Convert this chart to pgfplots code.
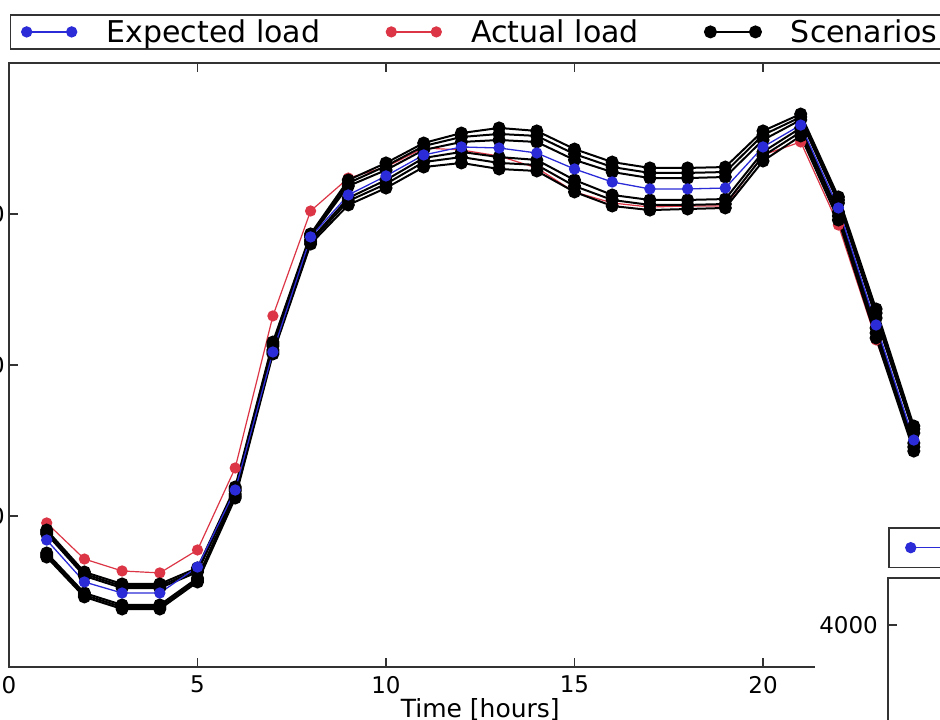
\documentclass[border=0pt]{standalone}
\usepackage{fontspec}
\setmainfont{DejaVu Sans}
\usepackage{pgfplots}
\usepackage{pgfplotstable}
\pgfplotsset{compat=1.18}
\definecolor{expblue}{HTML}{2B2BD8}
\definecolor{actred}{HTML}{DC3545}
\definecolor{axgray}{HTML}{333333}

% load per hour: expected, actual, six scenarios
\pgfplotstableread{
h  exp  act  s1   s2   s3   s4   s5   s6
1  2841 2954 2907 2894 2881 2755 2742 2728
2  2563 2715 2629 2616 2603 2490 2477 2464
3  2490 2636 2550 2536 2523 2411 2397 2384
4  2490 2623 2550 2536 2523 2411 2397 2384
5  2662 2775 2656 2642 2629 2589 2576 2563
6  3172 3318 3192 3179 3166 3146 3132 3119
7  4086 4325 4152 4139 4126 4099 4086 4073
8  4848 5020 4868 4858 4848 4828 4815 4801
9  5126 5238 5225 5205 5185 5106 5086 5060
10 5252 5311 5338 5318 5291 5225 5199 5172
11 5391 5437 5470 5450 5424 5371 5344 5311
12 5444 5424 5536 5510 5477 5411 5377 5338
13 5437 5384 5570 5530 5490 5377 5338 5298
14 5404 5305 5550 5517 5477 5358 5325 5285
15 5298 5146 5430 5397 5358 5225 5185 5146
16 5212 5073 5344 5311 5278 5126 5093 5053
17 5166 5046 5305 5272 5238 5093 5060 5026
18 5166 5053 5305 5272 5238 5093 5060 5033
19 5172 5053 5311 5278 5245 5099 5066 5040
20 5444 5391 5550 5523 5490 5411 5384 5351
21 5589 5477 5662 5642 5623 5570 5543 5517
22 5040 4927 5113 5093 5073 5013 4987 4960
23 4265 4166 4371 4344 4311 4245 4212 4179
24 3503 3464 3596 3576 3550 3483 3457 3430
}\loadtable

\pgfplotsset{
  expst/.style={expblue, line width=1.3pt, mark=*, mark size=5pt, mark options={solid, fill=expblue, draw=expblue}},
  actst/.style={actred, line width=1.2pt, mark=*, mark size=5pt, mark options={solid, fill=actred, draw=actred}},
  scen/.style={black, line width=2pt, mark=*, mark size=5.5pt, mark options={solid, fill=black}},
  mpl/.style={
    scale only axis,
    tick align=inside, major tick length=9pt,
    axis line style={axgray, line width=1.5pt},
    every tick/.style={axgray, line width=1.2pt},
    tick label style={font=\fontsize{23}{26}\selectfont},
    /pgf/number format/assume math mode=true,
    /pgf/number format/1000 sep={},
    xticklabel style={inner sep=0pt, yshift=-9pt},
    yticklabel style={inner sep=0pt, xshift=-4pt},
    legend image code/.code={\draw[##1] plot coordinates {(0pt,0pt) (45pt,0pt)};},
  },
}

\begin{document}
\begin{tikzpicture}
\useasboundingbox (0,0) rectangle (940pt,720pt);
\clip (0,0) rectangle (940pt,720pt);

\begin{axis}[mpl,
  at={(9pt,53pt)}, anchor=south west,
  width=942.5pt, height=604pt,
  xmin=0, xmax=25, ymin=2000, ymax=6000,
  xtick={0,5,...,25}, ytick={3000,4000,5000},
  xlabel={Time [hours]},
  xlabel style={font=\fontsize{25}{28}\selectfont, at={(axis description cs:0.5,0)},
    anchor=north, inner sep=0pt, yshift=-31pt},
  legend columns=3,
  legend cell align=left,
  legend style={at={(0.001,1.0811)}, anchor=north west,
    draw=axgray, line width=1.5pt, inner xsep=11pt, inner ysep=5pt,
    font=\fontsize{30}{34}\selectfont,
    nodes={inner sep=0pt},
    /tikz/every odd column/.append style={column sep=30pt},
    /tikz/every even column/.append style={column sep=66pt}},
]
\addlegendimage{expst}\addlegendentry{Expected load}
\addlegendimage{actst}\addlegendentry{Actual load}
\addlegendimage{scen}\addlegendentry{Scenarios}

\addplot[actst, forget plot] table[x=h, y=act] {\loadtable};
\addplot[scen, forget plot] table[x=h, y=s1] {\loadtable};
\addplot[scen, forget plot] table[x=h, y=s2] {\loadtable};
\addplot[scen, forget plot] table[x=h, y=s3] {\loadtable};
\addplot[scen, forget plot] table[x=h, y=s4] {\loadtable};
\addplot[scen, forget plot] table[x=h, y=s5] {\loadtable};
\addplot[scen, forget plot] table[x=h, y=s6] {\loadtable};
\addplot[expst, forget plot] table[x=h, y=exp] {\loadtable};
\end{axis}

% background of the overlapping second figure
\fill[white] (815pt,0pt) rectangle (940pt,205pt);

\begin{axis}[mpl,
  at={(888pt,142pt)}, anchor=north west,
  width=700pt, height=517pt,
  xmin=0, xmax=25, ymin=2000, ymax=4200,
  xtick=\empty, ytick={2000,3000,4000},
  yticklabel style={inner sep=0pt, xshift=-6pt},
  legend style={at={(0,1.0986)}, anchor=north west,
    draw=axgray, line width=1.5pt, inner xsep=17pt, inner ysep=7pt,
    font=\fontsize{32}{36}\selectfont, nodes={inner sep=0pt},
    /tikz/every odd column/.append style={column sep=30pt}},
]
\addlegendimage{expst}\addlegendentry{Expected load}
\end{axis}
\end{tikzpicture}
\end{document}
